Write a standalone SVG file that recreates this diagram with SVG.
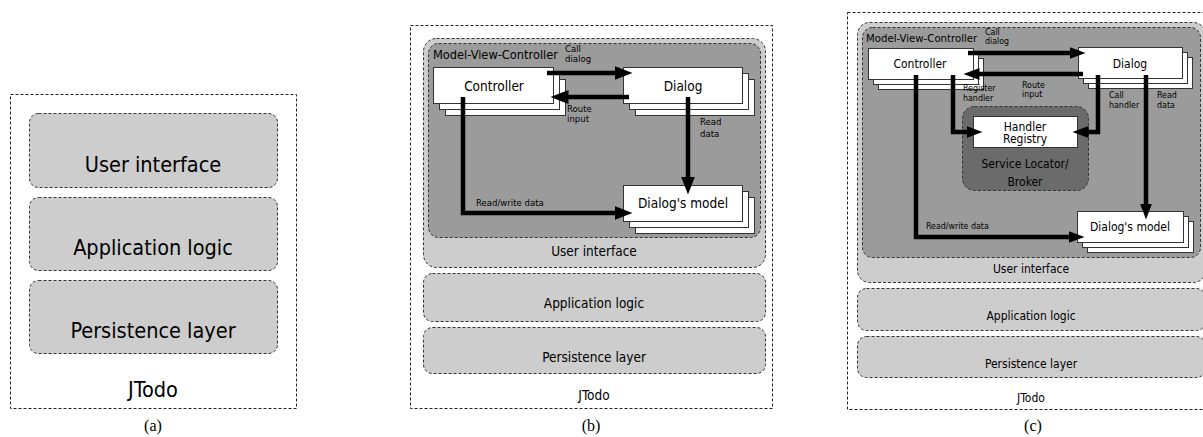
<svg xmlns="http://www.w3.org/2000/svg" width="1203" height="437" viewBox="0 0 1203 437">
<style>
text{font-family:"DejaVu Sans Condensed","DejaVu Sans",sans-serif;font-stretch:condensed;fill:#000}
.cap{font-family:"Liberation Serif",serif;font-stretch:normal;font-size:16px;text-anchor:middle}
.outer{fill:#fff;stroke:#222;stroke-width:1;stroke-dasharray:3 2}
.layer{fill:#cdcdcd;stroke:#333;stroke-width:1;stroke-dasharray:3 2}
.mvc{fill:#9b9b9b;stroke:#333;stroke-width:1;stroke-dasharray:3 2}
.broker{fill:#6b6b6b;stroke:#333;stroke-width:1;stroke-dasharray:3 2}
.box{fill:#fff;stroke:#333;stroke-width:1}
.conn{fill:none;stroke:#000;stroke-width:4.5}
.c{text-anchor:middle}
.a1{font-size:21.5px}
.b1{font-size:13.5px}
.bt{font-size:12.7px}
.b2{font-size:9.5px}
.c1{font-size:12px}
.ct{font-size:11.3px}
.c2{font-size:8.8px}
</style>
<defs>
<marker id="hb" markerUnits="userSpaceOnUse" markerWidth="19" markerHeight="15" refX="0.5" refY="7" orient="auto"><path d="M0,0 L18,7 L0,14 z" fill="#000"/></marker>
<marker id="hc" markerUnits="userSpaceOnUse" markerWidth="17" markerHeight="13" refX="0.5" refY="6" orient="auto"><path d="M0,0 L16,6 L0,12 z" fill="#000"/></marker>
</defs>
<rect width="1203" height="437" fill="#fff"/>

<!-- Panel (a) -->
<g id="a-jtodo"><rect class="outer" x="10.5" y="94.5" width="286" height="314"/><text class="a1 c" x="153" y="397">JTodo</text></g>
<g id="a-ui"><rect class="layer" x="29.5" y="113.5" width="248" height="74" rx="9"/><text class="a1 c" x="153" y="172">User interface</text></g>
<g id="a-app"><rect class="layer" x="29.5" y="197.5" width="248" height="73" rx="9"/><text class="a1 c" x="153" y="255">Application logic</text></g>
<g id="a-pers"><rect class="layer" x="29.5" y="280.5" width="248" height="73" rx="9"/><text class="a1 c" x="153" y="338">Persistence layer</text></g>
<text class="cap" x="153" y="431">(a)</text>

<!-- Panel (b) -->
<g id="b-jtodo"><rect class="outer" x="410.5" y="25.5" width="362" height="383"/><text class="b1 c" x="594" y="400">JTodo</text></g>
<g id="b-ui"><rect class="layer" x="423.5" y="38.5" width="342" height="229" rx="13"/><text class="b1 c" x="594" y="256">User interface</text></g>
<g id="b-mvc"><rect class="mvc" x="428.5" y="43.5" width="332" height="194" rx="10"/><text class="bt" x="433" y="59">Model-View-Controller</text></g>
<g id="b-controller"><rect class="box" x="445.5" y="79.5" width="120" height="36"/><rect class="box" x="439.5" y="73.5" width="120" height="36"/><rect class="box" x="433.5" y="67.5" width="120" height="36"/><text class="b1 c" x="494" y="91">Controller</text></g>
<g id="b-dialog"><rect class="box" x="635.5" y="79.5" width="119" height="36"/><rect class="box" x="629.5" y="73.5" width="119" height="36"/><rect class="box" x="623.5" y="67.5" width="119" height="36"/><text class="b1 c" x="683" y="91">Dialog</text></g>
<g id="b-model"><rect class="box" x="635.5" y="197.5" width="119" height="36"/><rect class="box" x="629.5" y="191.5" width="119" height="36"/><rect class="box" x="623.5" y="185.5" width="119" height="36"/><text class="b1 c" x="683" y="208">Dialog's model</text></g>
<g id="b-app"><rect class="layer" x="423.5" y="273.5" width="342" height="48" rx="9"/><text class="b1 c" x="594" y="308">Application logic</text></g>
<g id="b-pers"><rect class="layer" x="423.5" y="327.5" width="342" height="46" rx="9"/><text class="b1 c" x="594" y="362">Persistence layer</text></g>
<text class="cap" x="591" y="431">(b)</text>
<g id="b-connectors">
<path class="conn" d="M547,73 H615" marker-end="url(#hb)"/>
<path class="conn" d="M629,97 H568" marker-end="url(#hb)"/>
<path class="conn" d="M688,97 V177" marker-end="url(#hb)"/>
<path class="conn" d="M463,97 V213 H615" marker-end="url(#hb)"/>
<text class="b2" x="565" y="52">Call</text><text class="b2" x="565" y="62">dialog</text>
<text class="b2" x="567" y="112">Route</text><text class="b2" x="567" y="122">input</text>
<text class="b2" x="700" y="125">Read</text><text class="b2" x="700" y="137">data</text>
<text class="b2" x="476" y="206">Read/write data</text>
</g>

<!-- Panel (c) -->
<g id="c-jtodo"><rect class="outer" x="847.5" y="12.5" width="364" height="397"/><text class="c1 c" x="1031" y="402">JTodo</text></g>
<g id="c-ui"><rect class="layer" x="857.5" y="22.5" width="348" height="260" rx="12"/><text class="c1 c" x="1031" y="273">User interface</text></g>
<g id="c-mvc"><rect class="mvc" x="862.5" y="27.5" width="338" height="230" rx="10"/><text class="ct" x="866" y="42">Model-View-Controller</text></g>
<g id="c-broker"><rect class="broker" x="962.5" y="106.5" width="126" height="84" rx="12"/><text class="c1 c" x="1025" y="168">Service Locator/</text><text class="c1 c" x="1025" y="186">Broker</text></g>
<g id="c-registry"><rect class="box" x="973.5" y="116.5" width="104" height="31"/><text class="c1 c" x="1025" y="131">Handler</text><text class="c1 c" x="1025" y="143">Registry</text></g>
<g id="c-controller"><rect class="box" x="878.5" y="58.5" width="105" height="31"/><rect class="box" x="873.5" y="53.5" width="105" height="31"/><rect class="box" x="868.5" y="48.5" width="105" height="31"/><text class="c1 c" x="920" y="68">Controller</text></g>
<g id="c-dialog"><rect class="box" x="1088.5" y="57.5" width="104" height="31"/><rect class="box" x="1083.5" y="52.5" width="104" height="31"/><rect class="box" x="1078.5" y="47.5" width="104" height="31"/><text class="c1 c" x="1130" y="68">Dialog</text></g>
<g id="c-model"><rect class="box" x="1087.5" y="221.5" width="106" height="31"/><rect class="box" x="1082.5" y="216.5" width="106" height="31"/><rect class="box" x="1077.5" y="211.5" width="106" height="31"/><text class="c1 c" x="1130" y="231">Dialog's model</text></g>
<g id="c-app"><rect class="layer" x="857.5" y="288.5" width="348" height="42" rx="9"/><text class="c1 c" x="1031" y="320">Application logic</text></g>
<g id="c-pers"><rect class="layer" x="857.5" y="336.5" width="348" height="41" rx="9"/><text class="c1 c" x="1031" y="368">Persistence layer</text></g>
<text class="cap" x="1033" y="431">(c)</text>
<g id="c-connectors">
<path class="conn" d="M968,53 H1070" marker-end="url(#hc)"/>
<path class="conn" d="M1083,74 H979" marker-end="url(#hc)"/>
<path class="conn" d="M953,75 V132 H967" marker-end="url(#hc)"/>
<path class="conn" d="M1098,75 V132 H1088" marker-end="url(#hc)"/>
<path class="conn" d="M1146,75 V204" marker-end="url(#hc)"/>
<path class="conn" d="M916,75 V237 H1069" marker-end="url(#hc)"/>
<text class="c2" x="985" y="35">Call</text><text class="c2" x="985" y="44">dialog</text>
<text class="c2" x="1022" y="88">Route</text><text class="c2" x="1022" y="97">input</text>
<text class="c2" x="963" y="91">Register</text><text class="c2" x="963" y="101">handler</text>
<text class="c2" x="1109" y="98">Call</text><text class="c2" x="1109" y="108">handler</text>
<text class="c2" x="1157" y="98">Read</text><text class="c2" x="1157" y="108">data</text>
<text class="c2" x="926" y="229">Read/write data</text>
</g>
</svg>
